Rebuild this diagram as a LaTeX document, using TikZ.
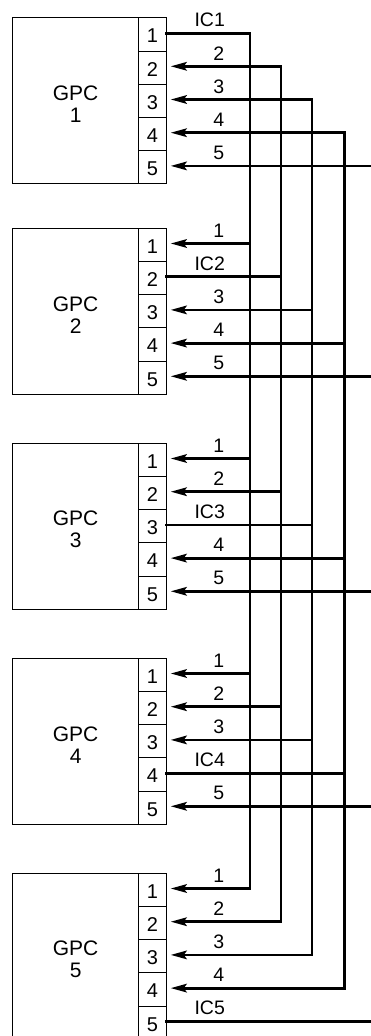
\documentclass[tikz,border=0pt]{standalone}
\usepackage{fontspec}
\setmainfont{Liberation Sans}
\usetikzlibrary{arrows.meta}
\begin{document}
\begin{tikzpicture}[x=1pt,y=-1pt,>={Stealth[length=16pt,width=8.5pt,inset=3pt]},
  gpc/.style={draw,line width=1pt,minimum width=126.3pt,minimum height=166pt,
    inner sep=0pt,anchor=north west},
  gpctext/.style={align=center,inner sep=0pt,font=\fontsize{21}{22}\selectfont},
  port/.style={draw,line width=1pt,minimum width=27.4pt,minimum height=33.2pt,
    inner sep=0pt,anchor=north west,text height=17pt,text depth=0pt,
    font=\fontsize{20}{20}\selectfont},
  link/.style={line width=2.8pt,line cap=rect},
  lbl/.style={above,inner sep=0pt,font=\fontsize{19.5}{20}\selectfont}]
\useasboundingbox (0,0) rectangle (371,1036);
% bus lines
\foreach \i/\x in {1/250,2/281,3/312,4/344.3,5/376}
{
    \coordinate (bus\i) at (\x,0);
}
% GPC blocks with their ports
\foreach \b/\top in {1/17.3,2/227.7,3/442.7,4/657.7,5/872.7}
{
    \node[gpc] (G\b) at (12,\top) {};
    \node[gpctext] (N\b) at ([yshift=-3.5pt]G\b.center) {GPC\\\b};
    \foreach \i in {1,...,5}
    {
        \node[port] (P\b\i) at (138.3,{\top+(\i-1)*33.2}) {\i};
        \coordinate (T\b\i) at ([yshift=1.3pt]P\b\i.east);
        \ifnum\b=\i
            \draw[link] (T\b\i) -- (T\b\i -| bus\i);
            \node[lbl] (L\b\i) at ([xshift=43pt,yshift=6pt]T\b\i) {IC\b};
        \else
            \draw[link,->] (T\b\i -| bus\i) -- ([xshift=4pt]T\b\i);
            \node[lbl] (L\b\i) at ([xshift=52pt,yshift=6pt]T\b\i) {\i};
        \fi
    }
}
\foreach \i in {1,...,5}
{
    \draw[link] (T1\i -| bus\i) -- (T5\i -| bus\i);
}
\end{tikzpicture}
\end{document}
